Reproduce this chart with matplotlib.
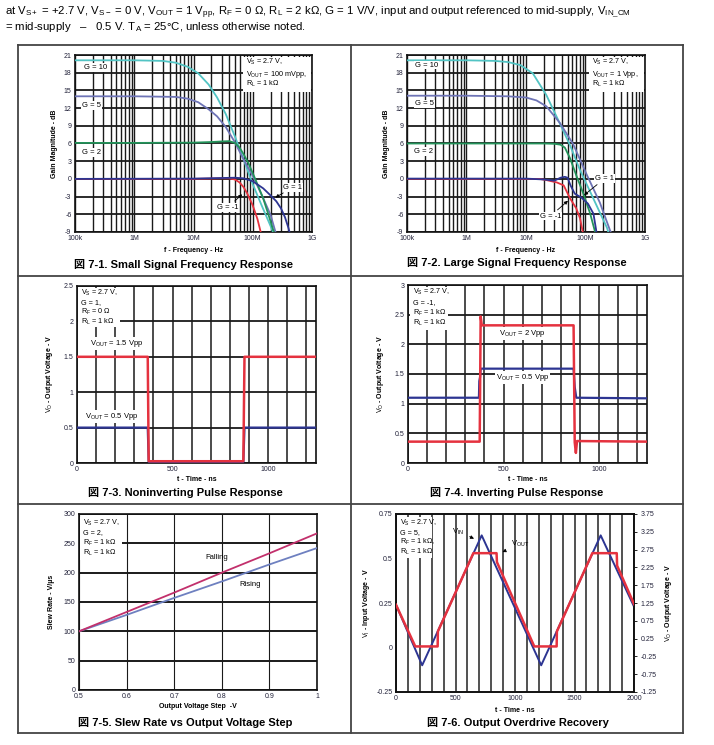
import numpy as np
import matplotlib
matplotlib.use('Agg')
import matplotlib.pyplot as plt
from matplotlib.patches import Rectangle
from matplotlib.lines import Line2D
from matplotlib.ticker import NullFormatter, FixedLocator

plt.rcParams['font.family'] = ['Liberation Sans', 'Noto Sans CJK JP', 'DejaVu Sans']
plt.rcParams['mathtext.fontset'] = 'custom'
plt.rcParams['mathtext.rm'] = 'Liberation Sans'
plt.rcParams['mathtext.it'] = 'Liberation Sans:italic'
plt.rcParams['mathtext.bf'] = 'Liberation Sans:bold'
plt.rcParams['mathtext.default'] = 'rm'
plt.rcParams['axes.unicode_minus'] = False

# ---------------- data ----------------
# Fig 7-1 small signal frequency response (Hz, dB)
ss_f_g10 = [1e5, 1e6, 3e6, 5e6, 8e6, 1.2e7, 1.8e7, 2.5e7, 3.5e7, 5e7, 7e7, 1e8, 1.4e8, 2e8, 2.3e8]
ss_g10 = [20.1, 20.1, 20.0, 19.7, 19.0, 17.9, 16.0, 13.8, 11.0, 7.2, 3.3, -0.9, -4.4, -8.0, -9.5]
ss_f_g5 = [1e5, 1e6, 5e6, 8e6, 1.2e7, 1.8e7, 2.5e7, 3.5e7, 5e7, 7e7, 1e8, 1.4e8, 2e8, 2.5e8]
ss_g5 = [14.0, 14.0, 13.9, 13.6, 13.0, 11.8, 10.6, 8.8, 6.2, 3.3, 0.5, -2.6, -6.1, -9.5]
ss_f_g2 = [1e5, 1e6, 1e7, 2e7, 3e7, 4e7, 5e7, 6e7, 7e7, 8.5e7, 1.1e8, 1.5e8, 1.9e8, 2.35e8]
ss_g2 = [6.1, 6.1, 6.15, 6.25, 6.35, 6.4, 6.1, 5.3, 4.2, 2.6, 0.0, -3.3, -6.5, -9.5]
ss_f_g1 = [1e5, 1e7, 3e7, 5e7, 7e7, 1e8, 1.5e8, 2e8, 2.5e8, 3e8, 3.5e8, 4e8, 4.3e8]
ss_g1 = [0.0, 0.05, 0.15, 0.2, 0.1, -0.4, -1.6, -2.8, -3.8, -5.0, -6.5, -8.3, -9.5]
ss_f_gm1 = [1e5, 1e7, 3e7, 4e7, 5e7, 6e7, 7e7, 8e7, 9e7, 1e8, 1.2e8, 1.4e8]
ss_gm1 = [0.0, 0.0, 0.1, 0.1, -0.1, -0.6, -1.4, -2.4, -3.5, -4.5, -6.8, -9.5]

# Fig 7-2 large signal frequency response (Hz, dB)
ls_f_g10 = [1e5, 1e6, 3e6, 5e6, 8e6, 1.3e7, 2.2e7, 3.7e7, 5.5e7, 8e7, 1.35e8, 2.3e8, 2.5e8]
ls_g10 = [20.1, 20.1, 20.0, 19.8, 19.3, 17.9, 14.2, 9.4, 5.7, 1.6, -3.3, -8.3, -9.5]
ls_f_g5 = [1e5, 1e6, 5e6, 1e7, 1.5e7, 2.2e7, 3.7e7, 6.2e7, 1.04e8, 1.74e8, 2.6e8, 2.8e8]
ls_g5 = [14.1, 14.1, 14.0, 13.8, 13.3, 12.3, 9.5, 5.9, 0.8, -4.0, -8.8, -9.5]
ls_f_g2 = [1e5, 1e6, 1e7, 2e7, 3e7, 3.8e7, 4.5e7, 5.5e7, 7e7, 9.2e7, 1.2e8, 1.45e8, 1.55e8]
ls_g2 = [6.0, 6.0, 6.0, 6.0, 5.95, 5.8, 5.3, 3.5, 0.6, -2.5, -5.9, -9.0, -9.5]
ls_f_g1 = [1e5, 1e7, 2e7, 3e7, 3.8e7, 4.5e7, 5e7, 5.6e7, 6.6e7, 8.6e7, 1.1e8, 1.36e8, 1.5e8, 1.55e8]
ls_g1 = [0.05, 0.05, -0.1, -0.3, 0.2, 0.35, 0.2, -1.1, -2.5, -3.2, -4.2, -5.9, -8.5, -9.5]
ls_f_gm1 = [1e5, 1e7, 1.7e7, 2.2e7, 3.3e7, 4.3e7, 5.5e7, 7e7, 8.1e7, 9e7, 9.5e7]
ls_gm1 = [0.0, 0.0, 0.0, -0.2, -0.6, -1.1, -3.3, -5.0, -6.7, -9.0, -9.5]

freq_ticks = [1e5, 1e6, 1e7, 1e8, 1e9]
freq_labels = ['100k', '1M', '10M', '100M', '1G']
gain_ticks = [-9, -6, -3, 0, 3, 6, 9, 12, 15, 18, 21]

# Fig 7-3 noninverting pulse response (ns, V)
t3 = [0, 370, 375, 870, 876, 1250]
vout3_15 = [1.5, 1.5, 0.025, 0.025, 1.5, 1.5]
vout3_05 = [0.5, 0.5, 0.015, 0.015, 0.5, 0.5]

# Fig 7-4 inverting pulse response (ns, V)
t4_red = [0, 375, 380, 386, 866, 872, 878, 884, 1250]
vout4_2 = [0.36, 0.36, 2.47, 2.32, 2.32, 0.35, 0.17, 0.37, 0.36]
t4_blue = [0, 371, 373, 377, 380, 866, 872, 880, 1250]
vout4_05 = [1.1, 1.1, 1.38, 1.45, 1.59, 1.59, 1.28, 1.1, 1.09]

# Fig 7-5 slew rate vs output voltage step
step_v = [0.5, 0.6, 0.7, 0.8, 0.9, 1.0]
slew_fall = [100, 133, 166, 200, 233, 267]
slew_rise = [100, 128, 157, 185, 214, 242]

# Fig 7-6 output overdrive recovery
t6_in = [0, 220, 720, 1220, 1720, 2000]
vin6 = [0.24, -0.10, 0.63, -0.10, 0.63, 0.23]
t6_out = [0, 162, 350, 352, 650, 845, 848, 1162, 1350, 1352, 1650, 1855, 1858, 2000]
vout6 = [1.2, 0.03, 0.03, 0.45, 2.65, 2.65, 2.4, 0.03, 0.03, 0.45, 2.65, 2.65, 2.3, 1.22]

# ---------------- layout helpers ----------------
W, H = 714, 745
fig = plt.figure(figsize=(W / 100, H / 100), dpi=100)


def fx(x):
    return x / W


def fy(y):
    return 1 - y / H


def make_ax(l, t, r, b):
    return fig.add_axes([fx(l), fy(b), (r - l) / W, (b - t) / H])


C10 = '#52C4C4'
C5 = '#6E74B6'
C2 = '#23935A'
C1 = '#2D3592'
CM1 = '#E5323F'
GRID = '#1a1a1a'
TICKC = '#22223a'


def style(ax):
    for s in ax.spines.values():
        s.set_linewidth(1.2)
        s.set_color('#111111')
    ax.tick_params(which='both', length=0, labelsize=5, pad=2.5, labelcolor=TICKC)
    ax.set_axisbelow(True)


def note(x0, y0, x1, y1, lines, ys, tx):
    fig.add_artist(Rectangle((fx(x0), fy(y1)), (x1 - x0) / W, (y1 - y0) / H,
                             transform=fig.transFigure, fc='white', ec='none', zorder=5))
    for s, yy in zip(lines, ys):
        fig.text(fx(tx), fy(yy), s, fontsize=5.2, va='center', ha='left', zorder=6)


lbl_kw = dict(fontsize=5, fontweight='bold')
wbox = dict(fc='white', ec='none', pad=0.6)


def freq_panel(ax, curves, labels):
    style(ax)
    ax.set_xscale('log')
    ax.set_xlim(1e5, 1e9)
    ax.set_ylim(-9, 21)
    ax.xaxis.set_major_locator(FixedLocator(freq_ticks))
    ax.set_xticklabels(freq_labels)
    minor = [m * 10 ** e for e in range(5, 9) for m in range(2, 10)]
    ax.xaxis.set_minor_locator(FixedLocator(minor))
    ax.xaxis.set_minor_formatter(NullFormatter())
    ax.set_yticks(gain_ticks)
    ax.grid(which='both', axis='x', color=GRID, lw=1.0)
    ax.grid(which='major', axis='y', color=GRID, lw=1.3)
    for f, g, c in curves:
        ax.plot(f, g, color=c, lw=1.3, zorder=3)
    ax.set_xlabel('f - Frequency - Hz', labelpad=3, **lbl_kw)
    ax.set_ylabel('Gain Magnitude - dB', labelpad=4, **lbl_kw)
    for txt, x, y in labels:
        ax.text(x, y, txt, fontsize=5.5, va='center', ha='left', bbox=wbox, zorder=4)


# ---------------- Fig 7-1 ----------------
ax1 = make_ax(75, 55, 312, 232)
freq_panel(ax1, [(ss_f_g10, ss_g10, C10), (ss_f_g5, ss_g5, C5), (ss_f_g2, ss_g2, C2),
                 (ss_f_gm1, ss_gm1, CM1), (ss_f_g1, ss_g1, C1)],
           [('G = 10', 1.4e5, 18.85), ('G = 5', 1.3e5, 12.4), ('G = 2', 1.3e5, 4.5)])
ax1.annotate('G = 1', xy=(2.2e8, -3.4), xytext=(3.3e8, -1.4), fontsize=5.5, va='center',
             ha='left', bbox=wbox, zorder=4,
             arrowprops=dict(arrowstyle='-|>', color='k', lw=0.6, mutation_scale=5))
ax1.annotate('G = -1', xy=(7.2e7, -2.3), xytext=(2.5e7, -4.8), fontsize=5.5, va='center',
             ha='left', bbox=wbox, zorder=4,
             arrowprops=dict(arrowstyle='-|>', color='k', lw=0.6, mutation_scale=5))
note(243, 57, 311, 92, ['$V_S$ = 2.7 V,', '$V_{OUT}$ = 100 mVpp,', '$R_L$ = 1 k\u03a9'],
     [62, 74, 84], 246)

# ---------------- Fig 7-2 ----------------
ax2 = make_ax(407, 55, 645, 232)
freq_panel(ax2, [(ls_f_g10, ls_g10, C10), (ls_f_g5, ls_g5, C5), (ls_f_g2, ls_g2, C2),
                 (ls_f_gm1, ls_gm1, CM1), (ls_f_g1, ls_g1, C1)],
           [('G = 10', 1.35e5, 19.3), ('G = 5', 1.35e5, 12.7), ('G = 2', 1.3e5, 4.6)])
ax2.annotate('G = 1', xy=(8.7e7, -3.05), xytext=(1.45e8, 0.06), fontsize=5.5, va='center',
             ha='left', bbox=wbox, zorder=4,
             arrowprops=dict(arrowstyle='-|>', color='k', lw=0.6, mutation_scale=5))
ax2.annotate('G = -1', xy=(5.5e7, -3.4), xytext=(1.7e7, -6.3), fontsize=5.5, va='center',
             ha='left', bbox=wbox, zorder=4,
             arrowprops=dict(arrowstyle='-|>', color='k', lw=0.6, mutation_scale=5))
note(589, 57, 644, 92, ['$V_S$ = 2.7 V,', '$V_{OUT}$ = 1 Vpp,', '$R_L$ = 1 k\u03a9'],
     [62, 74, 84], 592)


def time_panel(ax, xmax, ymax):
    style(ax)
    ax.set_xlim(0, xmax)
    ax.set_ylim(0, ymax)
    ax.set_xticks([0, 500, 1000])
    ax.set_xticks(np.arange(100, xmax, 100), minor=True)
    yt = np.arange(0, ymax + 0.01, 0.5)
    ax.set_yticks(yt)
    ax.set_yticklabels([('%g' % v) for v in yt])
    ax.grid(which='both', axis='x', color=GRID, lw=1.1)
    ax.grid(which='major', axis='y', color=GRID, lw=1.3)
    ax.set_xlabel('t - Time - ns', labelpad=2, **lbl_kw)
    ax.set_ylabel('$V_O$ - Output Voltage - V', labelpad=6, **lbl_kw)


# ---------------- Fig 7-3 ----------------
ax3 = make_ax(77, 286, 316, 463)
time_panel(ax3, 1250, 2.5)
ax3.plot(t3, vout3_05, color=C1, lw=1.6, zorder=3)
ax3.plot(t3, vout3_15, color=CM1, lw=1.8, zorder=3)
ax3.text(205, 1.69, '$V_{OUT}$ = 1.5 Vpp', fontsize=5.5, ha='center', va='center', bbox=wbox, zorder=4)
ax3.text(180, 0.66, '$V_{OUT}$ = 0.5 Vpp', fontsize=5.5, ha='center', va='center', bbox=wbox, zorder=4)
note(78, 288, 120, 327, ['$V_S$ = 2.7 V,', 'G = 1,', '$R_F$ = 0 \u03a9', '$R_L$ = 1 k\u03a9'],
     [293, 303, 312, 322], 81)

# ---------------- Fig 7-4 ----------------
ax4 = make_ax(408, 285, 647, 463)
time_panel(ax4, 1250, 3.0)
ax4.plot(t4_blue, vout4_05, color=C1, lw=1.6, zorder=3)
ax4.plot(t4_red, vout4_2, color=CM1, lw=1.8, zorder=3)
ax4.text(601, 2.18, '$V_{OUT}$ = 2 Vpp', fontsize=5.5, ha='center', va='center', bbox=wbox, zorder=4)
ax4.text(601, 1.44, '$V_{OUT}$ = 0.5 Vpp', fontsize=5.5, ha='center', va='center', bbox=wbox, zorder=4)
note(410, 287, 448, 330, ['$V_S$ = 2.7 V,', 'G = -1,', '$R_F$ = 1 k\u03a9', '$R_L$ = 1 k\u03a9'],
     [292, 303, 313, 323], 413)

# ---------------- Fig 7-5 ----------------
ax5 = make_ax(79, 514, 317, 690)
style(ax5)
ax5.set_xlim(0.5, 1.0)
ax5.set_ylim(0, 300)
ax5.set_xticks(step_v)
ax5.set_xticklabels(['0.5', '0.6', '0.7', '0.8', '0.9', '1'])
ax5.set_yticks([0, 50, 100, 150, 200, 250, 300])
ax5.grid(axis='x', color=GRID, lw=0.8)
ax5.grid(axis='y', color=GRID, lw=1.4)
ax5.plot(step_v, slew_rise, color='#6E80C0', lw=1.3, zorder=3)
ax5.plot(step_v, slew_fall, color='#C2306C', lw=1.3, zorder=3)
ax5.text(0.79, 226, 'Falling', fontsize=5.5, ha='center', va='center')
ax5.text(0.86, 179, 'Rising', fontsize=5.5, ha='center', va='center')
ax5.set_xlabel('Output Voltage Step  -V', labelpad=2, **lbl_kw)
ax5.set_ylabel('Slew Rate - V/\u00b5s', labelpad=6, **lbl_kw)
note(80, 517, 122, 560, ['$V_S$ = 2.7 V,', 'G = 2,', '$R_F$ = 1 k\u03a9', '$R_L$ = 1 k\u03a9'],
     [523, 533, 543, 553], 83)

# ---------------- Fig 7-6 ----------------
ax6 = make_ax(396, 514, 634, 692)
style(ax6)
ax6.set_xlim(0, 2000)
ax6.set_ylim(-0.25, 0.75)
ax6.set_xticks([0, 500, 1000, 1500, 2000])
ax6.set_xticks(np.arange(100, 2000, 100), minor=True)
ax6.set_yticks([-0.25, 0, 0.25, 0.5, 0.75])
ax6.set_yticklabels(['-0.25', '0', '0.25', '0.5', '0.75'])
ax6.grid(which='both', axis='x', color='#333333', lw=1.2)
ax6.yaxis.set_minor_locator(FixedLocator([0, 0.25, 0.5]))
ax6.grid(which='minor', axis='y', color=GRID, lw=1.2)
ax6.plot(t6_in, vin6, color=C1, lw=1.4, zorder=3)
ax6r = ax6.twinx()
ax6r.set_ylim(-1.25, 3.75)
ax6r.set_yticks(np.arange(-1.25, 3.76, 0.5))
ax6r.set_yticklabels(['%.2f' % v for v in np.arange(-1.25, 3.76, 0.5)])
for s in ax6r.spines.values():
    s.set_linewidth(1.2)
    s.set_color('#111111')
ax6r.tick_params(axis='y', length=2, width=0.6, labelsize=5, pad=3, labelcolor=TICKC)
ax6r.plot(t6_out, vout6, color=CM1, lw=1.8, zorder=3)
ax6.set_xlabel('t - Time - ns', labelpad=3, **lbl_kw)
ax6.set_ylabel('$V_I$ - Input Voltage - V', labelpad=3, **lbl_kw)
ax6r.set_ylabel('$V_O$ - Output Voltage - V', labelpad=4, rotation=90, **lbl_kw)
ax6.annotate('$V_{IN}$', xy=(677, 0.605), xytext=(523, 0.652), fontsize=5.5, va='center',
             ha='center', zorder=4,
             arrowprops=dict(arrowstyle='-|>', color='k', lw=0.6, mutation_scale=5))
ax6.annotate('$V_{OUT}$', xy=(873, 0.53), xytext=(1040, 0.58), fontsize=5.5, va='center',
             ha='center', zorder=4,
             arrowprops=dict(arrowstyle='-|>', color='k', lw=0.6, mutation_scale=5))
note(397, 517, 432, 558, ['$V_S$ = 2.7 V,', 'G = 5,', '$R_F$ = 1 k\u03a9,', '$R_L$ = 1 k\u03a9'],
     [523, 533, 542, 552], 400)

# ---------------- captions ----------------
cap_kw = dict(fontsize=8, fontweight='bold', ha='center', va='center')
fig.text(fx(184), fy(264), '\u56f3 7-1. Small Signal Frequency Response', **cap_kw)
fig.text(fx(517), fy(263), '\u56f3 7-2. Large Signal Frequency Response', **cap_kw)
fig.text(fx(185), fy(493), '\u56f3 7-3. Noninverting Pulse Response', **cap_kw)
fig.text(fx(517), fy(492), '\u56f3 7-4. Inverting Pulse Response', **cap_kw)
fig.text(fx(185), fy(722), '\u56f3 7-5. Slew Rate vs Output Voltage Step', **cap_kw)
fig.text(fx(518), fy(723), '\u56f3 7-6. Output Overdrive Recovery', **cap_kw)

# ---------------- header ----------------
hdr1 = ('at $V_{S+}$ = +2.7 V, $V_{S-}$ = 0 V, $V_{OUT}$ = 1 $V_{pp}$, $R_F$ = 0 \u03a9, '
        '$R_L$ = 2 k\u03a9, G = 1 V/V, input and output referenced to mid-supply, $V_{IN\\_CM}$')
hdr2 = '= mid-supply   \u2013   0.5 V. $T_A$ = 25\u00b0C, unless otherwise noted.'
fig.text(fx(5), fy(13), hdr1, fontsize=8.2, ha='left', va='center')
fig.text(fx(5), fy(27), hdr2, fontsize=8.2, ha='left', va='center')

# ---------------- table borders ----------------
bc = '#444444'
blw = 1.3


def hline(y, x0, x1):
    fig.add_artist(Line2D([fx(x0), fx(x1)], [fy(y), fy(y)], transform=fig.transFigure,
                          color=bc, lw=blw))


def vline(x, y0, y1):
    fig.add_artist(Line2D([fx(x), fx(x)], [fy(y0), fy(y1)], transform=fig.transFigure,
                          color=bc, lw=blw))


hline(45, 18, 683)
hline(276, 18, 683)
hline(504, 18, 683)
hline(733, 18, 683)
vline(18, 45, 733)
vline(351, 45, 733)
vline(683, 45, 733)

fig.savefig('out.png', dpi=100)
